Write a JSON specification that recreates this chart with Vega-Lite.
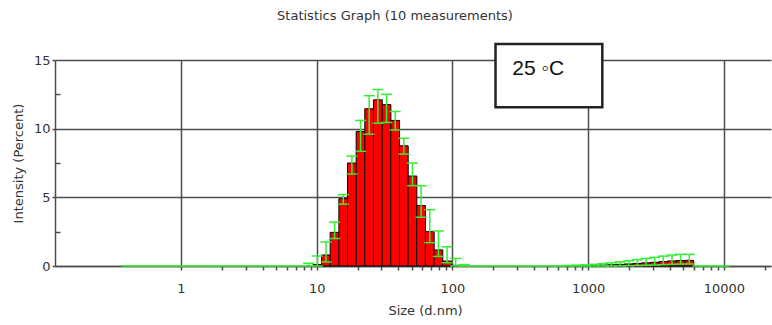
{
  "$schema": "https://vega.github.io/schema/vega-lite/v6.json",
  "width": 716,
  "height": 206,
  "autosize": {"type": "none"},
  "padding": {"left": 55, "top": 60, "right": 1, "bottom": 59},
  "background": "white",
  "config": {
    "view": {"stroke": null},
    "axis": {
      "labelFont": "DejaVu Sans", "labelFontSize": 13, "labelColor": "#333",
      "titleFont": "DejaVu Sans", "titleFontSize": 13, "titleColor": "#333", "titleFontWeight": "normal",
      "domainColor": "#4d4d4d", "domainWidth": 1.5,
      "tickColor": "#4d4d4d", "tickWidth": 1.5,
      "gridColor": "#4d4d4d", "gridWidth": 1.5, "gridOpacity": 1
    }
  },
  "title": {
    "text": "Statistics Graph (10 measurements)",
    "font": "DejaVu Sans", "fontSize": 13, "fontWeight": "normal", "color": "#333",
    "anchor": "middle", "baseline": "bottom", "offset": 7, "dx": -18
  },
  "datasets": {
    "bins": [
      {"s": 0.4, "m": 0, "lo": 0, "hi": 0},
      {"s": 0.4632, "m": 0, "lo": 0, "hi": 0},
      {"s": 0.5365, "m": 0, "lo": 0, "hi": 0},
      {"s": 0.6213, "m": 0, "lo": 0, "hi": 0},
      {"s": 0.7195, "m": 0, "lo": 0, "hi": 0},
      {"s": 0.8332, "m": 0, "lo": 0, "hi": 0},
      {"s": 0.9649, "m": 0, "lo": 0, "hi": 0},
      {"s": 1.117, "m": 0, "lo": 0, "hi": 0},
      {"s": 1.294, "m": 0, "lo": 0, "hi": 0},
      {"s": 1.499, "m": 0, "lo": 0, "hi": 0},
      {"s": 1.736, "m": 0, "lo": 0, "hi": 0},
      {"s": 2.01, "m": 0, "lo": 0, "hi": 0},
      {"s": 2.328, "m": 0, "lo": 0, "hi": 0},
      {"s": 2.696, "m": 0, "lo": 0, "hi": 0},
      {"s": 3.122, "m": 0, "lo": 0, "hi": 0},
      {"s": 3.615, "m": 0, "lo": 0, "hi": 0},
      {"s": 4.187, "m": 0, "lo": 0, "hi": 0},
      {"s": 4.849, "m": 0, "lo": 0, "hi": 0},
      {"s": 5.615, "m": 0, "lo": 0, "hi": 0},
      {"s": 6.503, "m": 0, "lo": 0, "hi": 0},
      {"s": 7.531, "m": 0, "lo": 0, "hi": 0},
      {"s": 8.721, "m": 0, "lo": 0, "hi": 0.2},
      {"s": 10.1, "m": 0.1, "lo": 0, "hi": 0.73},
      {"s": 11.7, "m": 0.8, "lo": 0.3, "hi": 1.75},
      {"s": 13.54, "m": 2.45, "lo": 2.0, "hi": 3.2},
      {"s": 15.69, "m": 4.9, "lo": 4.5, "hi": 5.2},
      {"s": 18.17, "m": 7.5, "lo": 6.7, "hi": 8.0},
      {"s": 21.04, "m": 9.8, "lo": 8.35, "hi": 10.6},
      {"s": 24.36, "m": 11.45, "lo": 9.6, "hi": 12.4},
      {"s": 28.21, "m": 12.1, "lo": 10.4, "hi": 12.85},
      {"s": 32.67, "m": 11.75, "lo": 10.45, "hi": 12.5},
      {"s": 37.84, "m": 10.6, "lo": 9.9, "hi": 11.25},
      {"s": 43.82, "m": 8.75, "lo": 8.15, "hi": 9.3},
      {"s": 50.75, "m": 6.55, "lo": 5.85, "hi": 7.5},
      {"s": 58.77, "m": 4.4, "lo": 3.55, "hi": 5.85},
      {"s": 68.06, "m": 2.5, "lo": 1.7, "hi": 4.1},
      {"s": 78.82, "m": 1.17, "lo": 0.7, "hi": 2.55},
      {"s": 91.28, "m": 0.36, "lo": 0.24, "hi": 1.4},
      {"s": 105.7, "m": 0.05, "lo": 0, "hi": 0.55},
      {"s": 122.4, "m": 0, "lo": 0, "hi": 0.1},
      {"s": 141.8, "m": 0, "lo": 0, "hi": 0},
      {"s": 164.2, "m": 0, "lo": 0, "hi": 0},
      {"s": 190.1, "m": 0, "lo": 0, "hi": 0},
      {"s": 220.2, "m": 0, "lo": 0, "hi": 0},
      {"s": 255.0, "m": 0, "lo": 0, "hi": 0},
      {"s": 295.3, "m": 0, "lo": 0, "hi": 0},
      {"s": 342.0, "m": 0, "lo": 0, "hi": 0},
      {"s": 396.1, "m": 0, "lo": 0, "hi": 0},
      {"s": 458.7, "m": 0, "lo": 0, "hi": 0},
      {"s": 531.2, "m": 0, "lo": 0, "hi": 0},
      {"s": 615.1, "m": 0, "lo": 0, "hi": 0.02},
      {"s": 712.4, "m": 0.01, "lo": 0, "hi": 0.04},
      {"s": 825.0, "m": 0.02, "lo": 0, "hi": 0.06},
      {"s": 955.4, "m": 0.03, "lo": 0, "hi": 0.08},
      {"s": 1106, "m": 0.05, "lo": 0, "hi": 0.12},
      {"s": 1281, "m": 0.07, "lo": 0, "hi": 0.17},
      {"s": 1484, "m": 0.09, "lo": 0, "hi": 0.23},
      {"s": 1719, "m": 0.12, "lo": 0.01, "hi": 0.3},
      {"s": 1990, "m": 0.15, "lo": 0.02, "hi": 0.38},
      {"s": 2305, "m": 0.19, "lo": 0.03, "hi": 0.46},
      {"s": 2669, "m": 0.23, "lo": 0.05, "hi": 0.55},
      {"s": 3091, "m": 0.27, "lo": 0.07, "hi": 0.63},
      {"s": 3580, "m": 0.32, "lo": 0.1, "hi": 0.72},
      {"s": 4145, "m": 0.37, "lo": 0.12, "hi": 0.8},
      {"s": 4801, "m": 0.4, "lo": 0.14, "hi": 0.85},
      {"s": 5560, "m": 0.41, "lo": 0.15, "hi": 0.85},
      {"s": 6439, "m": 0, "lo": 0, "hi": 0},
      {"s": 7456, "m": 0, "lo": 0, "hi": 0},
      {"s": 8635, "m": 0, "lo": 0, "hi": 0},
      {"s": 10000, "m": 0, "lo": 0, "hi": 0}
    ],
    "note": [{"label": "25 ◦C"}]
  },
  "resolve": {"axis": {"x": "independent", "y": "independent"}},
  "layer": [
    {
      "data": {"name": "bins"},
      "transform": [{"filter": "datum.m > 0"}],
      "mark": {"type": "bar", "size": 8.77, "fill": "#ff0000", "stroke": "#000000", "strokeWidth": 1},
      "encoding": {
        "x": {
          "field": "s", "type": "quantitative",
          "scale": {"type": "log", "domain": [0.12838, 20430], "nice": false},
          "axis": {
            "title": "Size (d.nm)", "titlePadding": 9, "titleX": 370, "titleAnchor": "middle",
            "values": [1, 2, 3, 4, 5, 6, 7, 8, 9, 10, 20, 30, 40, 50, 60, 70, 80, 90, 100, 200, 300, 400, 500, 600, 700, 800, 900, 1000, 2000, 3000, 4000, 5000, 6000, 7000, 8000, 9000, 10000, 20000],
            "format": "d",
            "labelExpr": "indexof(['1','10','100','1000','10000'], datum.label) >= 0 ? datum.label : ''",
            "labelOverlap": false, "labelFlush": false, "labelBound": false,
            "tickSize": 4, "labelPadding": 12,
            "grid": true,
            "gridOpacity": {"condition": {"test": "indexof([1, 10, 100, 1000, 10000], datum.value) >= 0", "value": 1}, "value": 0}
          }
        },
        "y": {
          "field": "m", "type": "quantitative", "stack": null,
          "scale": {"domain": [0, 15], "nice": false},
          "axis": {
            "orient": "left",
            "title": "Intensity (Percent)", "titlePadding": 8,
            "values": [0, 5, 10, 15], "grid": true, "tickSize": 3, "labelPadding": 2
          }
        }
      }
    },
    {
      "data": {"name": "bins"},
      "transform": [{"filter": "datum.hi > datum.lo"}],
      "mark": {"type": "rule", "color": "#33ee33", "strokeWidth": 1.5},
      "encoding": {
        "x": {"field": "s", "type": "quantitative", "axis": null},
        "y": {
          "field": "lo", "type": "quantitative",
          "axis": {"orient": "right", "offset": -716, "values": [2.5, 7.5, 12.5], "labels": false, "domain": false, "grid": false, "tickSize": 5, "title": null}
        },
        "y2": {"field": "hi"}
      }
    },
    {
      "data": {"name": "bins"},
      "mark": {"type": "tick", "orient": "horizontal", "color": "#33ee33", "size": 11, "thickness": 1.5, "opacity": 1},
      "encoding": {
        "x": {"field": "s", "type": "quantitative", "axis": null},
        "y": {"field": "hi", "type": "quantitative", "axis": null}
      }
    },
    {
      "data": {"name": "bins"},
      "transform": [{"filter": "datum.hi > datum.lo"}],
      "mark": {"type": "tick", "orient": "horizontal", "color": "#33ee33", "size": 11, "thickness": 1.5, "opacity": 1},
      "encoding": {
        "x": {"field": "s", "type": "quantitative", "axis": null},
        "y": {"field": "lo", "type": "quantitative", "axis": null}
      }
    },
    {
      "data": {"name": "note"},
      "mark": {"type": "rect", "fill": "white", "stroke": "#222222", "strokeWidth": 2.5},
      "encoding": {
        "x": {"datum": 207.7, "type": "quantitative", "axis": null},
        "x2": {"datum": 1271},
        "y": {"datum": 11.56, "type": "quantitative", "axis": null},
        "y2": {"datum": 16.17}
      }
    },
    {
      "data": {"name": "note"},
      "mark": {"type": "text", "font": "Liberation Sans", "fontSize": 21, "color": "#111111", "align": "center", "baseline": "middle"},
      "encoding": {
        "x": {"datum": 428.6, "type": "quantitative", "axis": null},
        "y": {"datum": 14.37, "type": "quantitative", "axis": null},
        "text": {"field": "label"}
      }
    }
  ]
}
